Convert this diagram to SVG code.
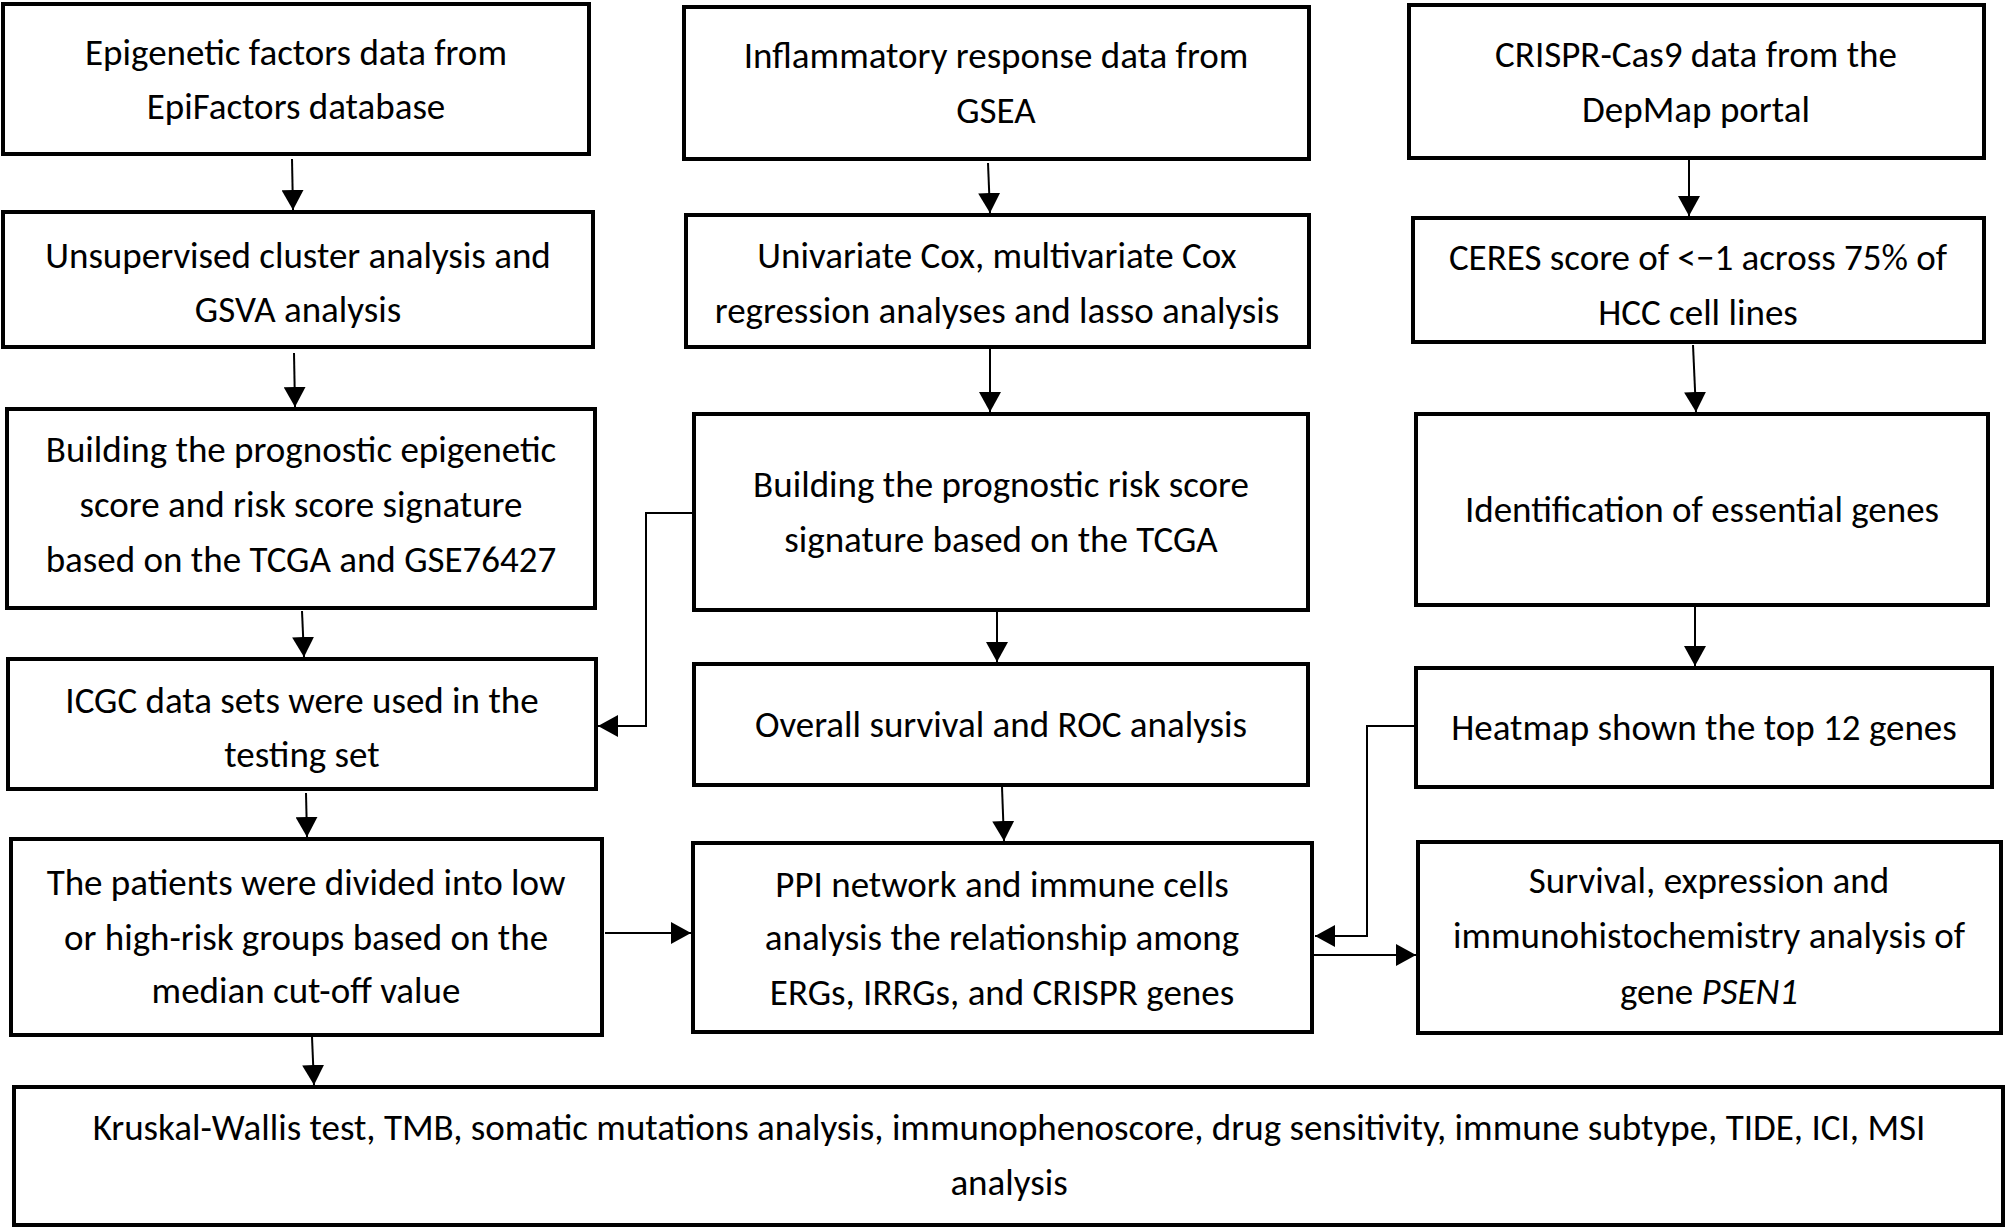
<svg xmlns="http://www.w3.org/2000/svg" width="2008" height="1230" viewBox="0 0 2008 1230">
<style>
.box{fill:#fff;stroke:#000;stroke-width:4}
.t{font-family:Carlito,Lato,"Liberation Sans",sans-serif;font-size:37px;fill:#000;text-anchor:middle}
.c{fill:none;stroke:#000;stroke-width:2}
</style>
<defs>
<marker id="ah" viewBox="0 0 20 22" refX="20" refY="11" markerWidth="20" markerHeight="22" markerUnits="userSpaceOnUse" orient="auto">
<path d="M0,0 L20,11 L0,22 z" fill="#000"/>
</marker>
</defs>
<rect width="2008" height="1230" fill="#fff"/>
<g id="connectors">
<path class="c" d="M292,159 L293,210" marker-end="url(#ah)"/>
<path class="c" d="M294,353 L295,407" marker-end="url(#ah)"/>
<path class="c" d="M302,611 L304,657" marker-end="url(#ah)"/>
<path class="c" d="M306,793 L307,837" marker-end="url(#ah)"/>
<path class="c" d="M312,1037 L314,1085" marker-end="url(#ah)"/>
<path class="c" d="M988,163 L990,213" marker-end="url(#ah)"/>
<path class="c" d="M990,349 L990,412" marker-end="url(#ah)"/>
<path class="c" d="M997,611 L997,662" marker-end="url(#ah)"/>
<path class="c" d="M1002,787 L1004,841" marker-end="url(#ah)"/>
<path class="c" d="M1689,160 L1689,216" marker-end="url(#ah)"/>
<path class="c" d="M1693,345 L1696,412" marker-end="url(#ah)"/>
<path class="c" d="M1695,607 L1695,666" marker-end="url(#ah)"/>
<path class="c" d="M605,933 L691,933" marker-end="url(#ah)"/>
<path class="c" d="M1314,955 L1416,955" marker-end="url(#ah)"/>
<path class="c" d="M693,513 H646 V726 H598" marker-end="url(#ah)"/>
<path class="c" d="M1415,726 H1367 V936 H1315" marker-end="url(#ah)"/>
</g>
<g id="a1"><rect class="box" x="3" y="4" width="586" height="150"/>
<text class="t" x="296" y="65">Epigenetic factors data from</text>
<text class="t" x="296" y="119">EpiFactors database</text></g>
<g id="a2"><rect class="box" x="3" y="212" width="590" height="135"/>
<text class="t" x="298" y="268">Unsupervised cluster analysis and</text>
<text class="t" x="298" y="322">GSVA analysis</text></g>
<g id="a3"><rect class="box" x="7" y="409" width="588" height="199"/>
<text class="t" x="301" y="462">Building the prognostic epigenetic</text>
<text class="t" x="301" y="517">score and risk score signature</text>
<text class="t" x="301" y="572">based on the TCGA and GSE76427</text></g>
<g id="a4"><rect class="box" x="8" y="659" width="588" height="130"/>
<text class="t" x="302" y="713">ICGC data sets were used in the</text>
<text class="t" x="302" y="767">testing set</text></g>
<g id="a5"><rect class="box" x="11" y="839" width="591" height="196"/>
<text class="t" x="306" y="895">The patients were divided into low</text>
<text class="t" x="306" y="950">or high-risk groups based on the</text>
<text class="t" x="306" y="1003">median cut-off value</text></g>
<g id="b1"><rect class="box" x="684" y="7" width="625" height="152"/>
<text class="t" x="996" y="68">Inflammatory response data from</text>
<text class="t" x="996" y="123">GSEA</text></g>
<g id="b2"><rect class="box" x="686" y="215" width="623" height="132"/>
<text class="t" x="997" y="268">Univariate Cox, multivariate Cox</text>
<text class="t" x="997" y="323">regression analyses and lasso analysis</text></g>
<g id="b3"><rect class="box" x="694" y="414" width="614" height="196"/>
<text class="t" x="1001" y="497">Building the prognostic risk score</text>
<text class="t" x="1001" y="552">signature based on the TCGA</text></g>
<g id="b4"><rect class="box" x="694" y="664" width="614" height="121"/>
<text class="t" x="1001" y="737">Overall survival and ROC analysis</text></g>
<g id="b5"><rect class="box" x="693" y="843" width="619" height="189"/>
<text class="t" x="1002" y="897">PPI network and immune cells</text>
<text class="t" x="1002" y="950">analysis the relationship among</text>
<text class="t" x="1002" y="1005">ERGs, IRRGs, and CRISPR genes</text></g>
<g id="c1"><rect class="box" x="1409" y="5" width="575" height="153"/>
<text class="t" x="1696" y="67">CRISPR-Cas9 data from the</text>
<text class="t" x="1696" y="122">DepMap portal</text></g>
<g id="c2"><rect class="box" x="1413" y="218" width="571" height="124"/>
<text class="t" x="1698" y="270">CERES score of &lt;−1 across 75% of</text>
<text class="t" x="1698" y="325">HCC cell lines</text></g>
<g id="c3"><rect class="box" x="1416" y="414" width="572" height="191"/>
<text class="t" x="1702" y="522">Identification of essential genes</text></g>
<g id="c4"><rect class="box" x="1416" y="668" width="576" height="119"/>
<text class="t" x="1704" y="740">Heatmap shown the top 12 genes</text></g>
<g id="c5"><rect class="box" x="1418" y="842" width="583" height="191"/>
<text class="t" x="1709" y="893">Survival, expression and</text>
<text class="t" x="1709" y="948">immunohistochemistry analysis of</text>
<text class="t" x="1709" y="1004">gene <tspan font-style="italic">PSEN1</tspan></text></g>
<g id="bottom"><rect class="box" x="14" y="1087" width="1989" height="138"/>
<text class="t" x="1009" y="1140">Kruskal-Wallis test, TMB, somatic mutations analysis, immunophenoscore, drug sensitivity, immune subtype, TIDE, ICI, MSI</text>
<text class="t" x="1009" y="1195">analysis</text></g>
</svg>
